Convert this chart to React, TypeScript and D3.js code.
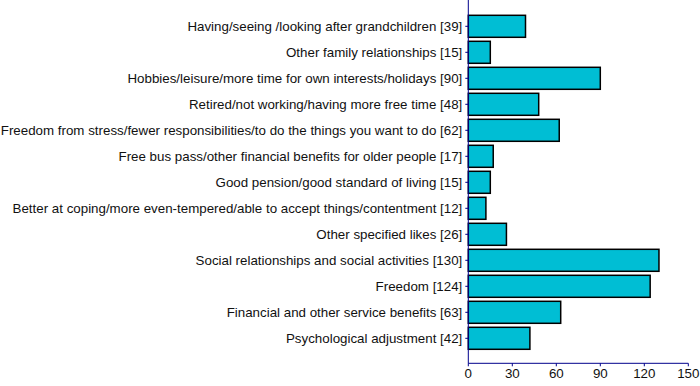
import React from "react";
import * as d3 from "d3";

const categories = [
  "Having/seeing /looking after grandchildren [39]",
  "Other family relationships [15]",
  "Hobbies/leisure/more time for own interests/holidays [90]",
  "Retired/not working/having more free time [48]",
  "Freedom from stress/fewer responsibilities/to do the things you want to do [62]",
  "Free bus pass/other financial benefits for older people [17]",
  "Good pension/good standard of living [15]",
  "Better at coping/more even-tempered/able to accept things/contentment [12]",
  "Other specified likes [26]",
  "Social relationships and social activities [130]",
  "Freedom [124]",
  "Financial and other service benefits [63]",
  "Psychological adjustment [42]",
];
const values = [39, 15, 90, 48, 62, 17, 15, 12, 26, 130, 124, 63, 42];
const xTicks = [0, 30, 60, 90, 120, 150];

export default function App() {
  const W = 700, H = 386;
  const x0 = 468.3, x1 = 688.3, axisY = 363.3;
  const x = d3.scaleLinear().domain([0, 150]).range([x0, x1]);
  const y = d3.scaleBand<string>().domain(categories).range([13.3, 351.3]).paddingInner(0.154).paddingOuter(0.077);
  const axisColor = "#00008B";
  const fs = 13.33;
  return (
    <svg width={W} height={H} style={{ position: "absolute", left: 0, top: 0, fontFamily: "'Liberation Sans', Arial, sans-serif" }}>
      <rect width={W} height={H} fill="#fff" />
      {categories.map((c, i) => (
        <g key={c}>
          <rect x={x(0)} y={y(c)!} width={x(values[i]) - x(0)} height={y.bandwidth()} fill="#00BED4" stroke="#000" strokeWidth={1.5} />
          <line x1={x0 - 3} x2={x0} y1={y(c)! + y.bandwidth() / 2} y2={y(c)! + y.bandwidth() / 2} stroke={axisColor} />
          <text x={x0 - 6} y={y(c)! + y.bandwidth() / 2} dy="0.35em" textAnchor="end" fontSize={fs} fill="#111">{c}</text>
        </g>
      ))}
      <line x1={x0} x2={x0} y1={0} y2={axisY} stroke={axisColor} strokeWidth={1} />
      <line x1={x0} x2={x1} y1={axisY} y2={axisY} stroke={axisColor} strokeWidth={1} />
      {xTicks.map((t) => (
        <g key={t}>
          <line x1={x(t)} x2={x(t)} y1={axisY} y2={axisY + 3} stroke={axisColor} />
          <text x={x(t)} y={axisY + 10} dy="0.35em" textAnchor="middle" fontSize={fs} fill="#111">{t}</text>
        </g>
      ))}
    </svg>
  );
}
